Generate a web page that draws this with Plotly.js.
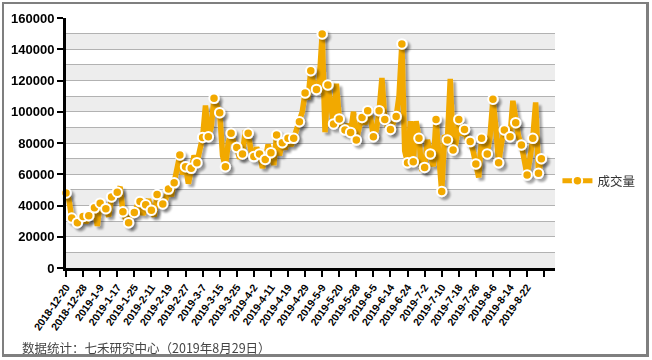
<!DOCTYPE html>
<html><head><meta charset="utf-8">
<script src="https://cdn.plot.ly/plotly-3.0.1.min.js"></script>
<style>
html,body{margin:0;padding:0;background:#fff;}
#wrap{position:relative;width:652px;height:360px;overflow:hidden;background:#fff;}
#frame{position:absolute;left:2px;top:2px;width:642px;height:350px;border-style:solid;border-color:#7f7f7f;border-width:2px 3px 3px 2px;}
#chart{position:absolute;left:0;top:0;width:652px;height:360px;}
</style></head><body>
<div id="wrap"><div id="frame"></div><div id="chart"></div></div>
<script>
const seriesName = '成交量';
const tickLabels = ['2018-12-20','2018-12-28','2019-1-9','2019-1-17','2019-1-25','2019-2-11','2019-2-19','2019-2-27','2019-3-7','2019-3-15','2019-3-25','2019-4-2','2019-4-11','2019-4-19','2019-4-29','2019-5-9','2019-5-20','2019-5-28','2019-6-5','2019-6-14','2019-6-24','2019-7-2','2019-7-10','2019-7-18','2019-7-26','2019-8-6','2019-8-14','2019-8-22'];
const volume = [
48000,44000,32000,30000,29000,31000,33000,29000,33500,36000,
38500,27000,41500,38000,38000,33000,45500,47000,48500,52000,
36000,31000,29000,34000,35500,40000,42500,34000,40500,44000,
37000,33000,47000,44000,41000,44000,50500,46000,54500,62000,
72300,60000,64800,54000,63800,72000,67400,75000,83600,104000,
84000,90000,108600,104000,99400,72000,64800,80000,86200,80000,
77200,70000,73000,88000,86200,75000,71300,77000,73000,64000,
69500,79000,73800,66000,85100,72000,80200,76000,83000,78000,
83000,88000,93600,100000,112000,108000,126300,118000,114300,120000,
149800,87000,117100,105000,92200,118000,95400,90000,88300,92000,
86800,100000,81900,90000,96400,92000,100700,96000,84000,88000,
100700,121600,95100,90000,88700,93000,96900,110000,143400,75000,
67400,94000,68000,94000,83000,62000,64400,82000,73000,65000,
95100,70000,49000,85000,81900,121000,75500,80000,95100,85000,
88700,82000,80900,75000,66600,58000,83000,78000,73000,85000,
108000,90000,67400,80000,88300,86000,84000,107000,93000,84000,
78700,68000,59500,70000,83000,106000,60600,70000
];
const ORANGE = '#F2A900';
const idx = volume.map((_, i) => i);
const hasAnchor = i => i % 2 === 0 || i === volume.length - 1;
const mIdx = idx.filter(hasAnchor);
const tickvals = tickLabels.map((_, k) => k * 6).concat([tickLabels.length * 6]);
const ticktext = tickLabels.concat(['']);

const markerStyle = {color: ORANGE, size: 9.5, line: {color: '#fff', width: 2}};
const data = [
  {x: idx, y: volume, type: 'scatter', mode: 'lines', line: {color: ORANGE, width: 5.5, shape: 'linear'}, showlegend: false, cliponaxis: false, hoverinfo: 'skip'},
  {x: mIdx, y: mIdx.map(i => volume[i]), type: 'scatter', mode: 'markers', marker: markerStyle, showlegend: false, cliponaxis: false},
  {x: [null], y: [null], type: 'scatter', mode: 'lines+markers', name: seriesName, line: {color: ORANGE, width: 5}, marker: markerStyle, showlegend: true}
];

const bands = [];
for (let v = 0; v < 160000; v += 20000) {
  bands.push({type: 'rect', xref: 'paper', x0: 0, x1: 1, yref: 'y', y0: v, y1: v + 10000, fillcolor: '#ededed', line: {width: 0}, layer: 'below'});
}
const tickFont = {family: 'Arial, "Liberation Sans", sans-serif', color: '#000', weight: 'bold'};
const layout = {
  width: 652, height: 360,
  margin: {l: 66, r: 94, t: 18, b: 92, pad: 0},
  paper_bgcolor: 'rgba(0,0,0,0)', plot_bgcolor: '#fff',
  showlegend: true,
  legend: {x: 1.005, xanchor: 'left', y: 0.348, yanchor: 'middle', bgcolor: 'rgba(0,0,0,0)', borderwidth: 0,
    font: {family: '"Noto Sans CJK SC", sans-serif', size: 12.5, color: '#333'}},
  xaxis: {range: [0, 171.8], tickmode: 'array', tickvals: tickvals, ticktext: ticktext, tickangle: -55,
    ticks: 'outside', ticklen: 6, tickwidth: 2, tickcolor: '#000', showline: true, linecolor: '#000', linewidth: 3,
    showgrid: false, zeroline: false, tickfont: Object.assign({size: 10.5}, tickFont)},
  yaxis: {range: [0, 160000], tick0: 0, dtick: 20000, tickformat: 'd', ticks: 'outside', ticklen: 6, tickwidth: 2,
    tickcolor: '#000', showline: true, linecolor: '#000', linewidth: 3, showgrid: true, gridcolor: '#b2b2b2', gridwidth: 1,
    minor: {dtick: 10000, showgrid: true, gridcolor: '#b2b2b2', gridwidth: 1},
    zeroline: false, tickfont: Object.assign({size: 13}, tickFont)},
  shapes: bands,
  annotations: [{text: '数据统计：七禾研究中心（2019年8月29日）', xref: 'paper', yref: 'paper', x: -0.0935, y: -0.316,
    xanchor: 'left', yanchor: 'middle', showarrow: false,
    font: {family: '"Noto Sans CJK SC", sans-serif', size: 12.5, color: '#444'}}]
};

Plotly.newPlot('chart', data, layout, {staticPlot: true, displayModeBar: false}).then(gd => {
  const NS = 'http://www.w3.org/2000/svg';
  const svg = gd.querySelector('.main-svg');
  let defs = svg.querySelector('defs');
  if (!defs) { defs = document.createElementNS(NS, 'defs'); svg.insertBefore(defs, svg.firstChild); }
  const f = document.createElementNS(NS, 'filter');
  f.setAttribute('id', 'dshadow');
  f.setAttribute('filterUnits', 'userSpaceOnUse');
  f.setAttribute('x', '-100'); f.setAttribute('y', '-100');
  f.setAttribute('width', '900'); f.setAttribute('height', '600');
  const blur = document.createElementNS(NS, 'feGaussianBlur');
  blur.setAttribute('in', 'SourceAlpha'); blur.setAttribute('stdDeviation', '1.3'); blur.setAttribute('result', 'b');
  const off = document.createElementNS(NS, 'feOffset');
  off.setAttribute('in', 'b'); off.setAttribute('dx', '3'); off.setAttribute('dy', '3'); off.setAttribute('result', 'o');
  const ct = document.createElementNS(NS, 'feComponentTransfer');
  ct.setAttribute('in', 'o'); ct.setAttribute('result', 's');
  const fa = document.createElementNS(NS, 'feFuncA');
  fa.setAttribute('type', 'linear'); fa.setAttribute('slope', '0.35');
  ct.appendChild(fa);
  const merge = document.createElementNS(NS, 'feMerge');
  ['s', 'SourceGraphic'].forEach(n => { const m = document.createElementNS(NS, 'feMergeNode'); m.setAttribute('in', n); merge.appendChild(m); });
  [blur, off, ct, merge].forEach(e => f.appendChild(e));
  defs.appendChild(f);
  gd.querySelectorAll('.scatterlayer .trace').forEach(t => t.setAttribute('filter', 'url(#dshadow)'));
});
</script>
</body></html>
